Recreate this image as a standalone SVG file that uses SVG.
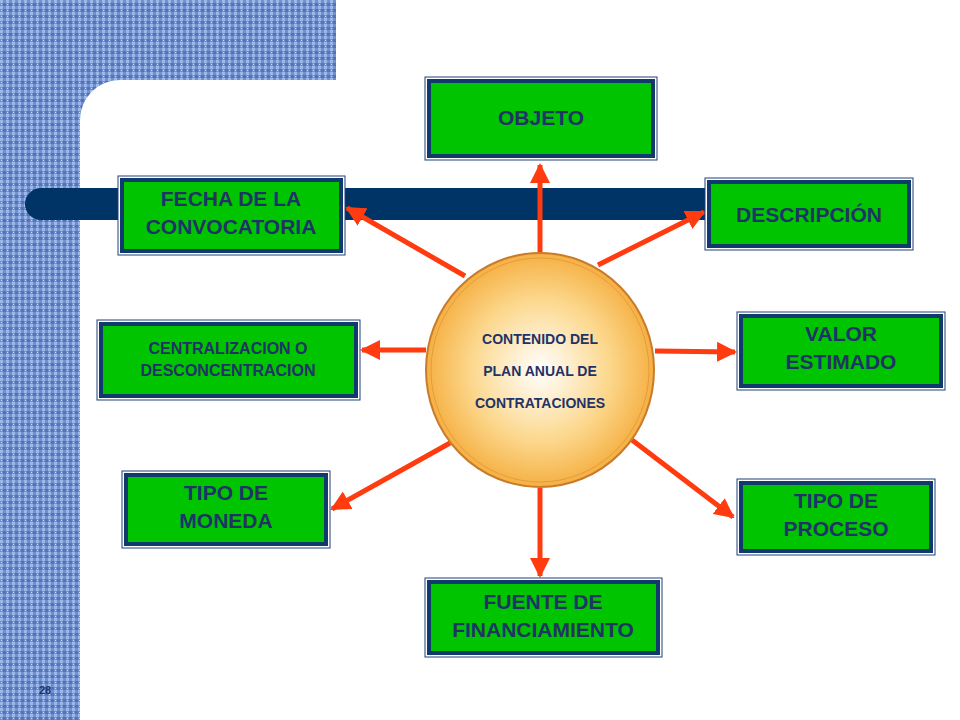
<svg xmlns="http://www.w3.org/2000/svg" width="960" height="720" viewBox="0 0 960 720">
<defs>
<pattern id="tex" width="6" height="6" patternUnits="userSpaceOnUse">
<rect width="6" height="6" fill="#6f8fcf"/>
<rect x="0" y="0" width="3" height="3" fill="#9fb8ea"/>
<rect x="3" y="3" width="3" height="3" fill="#5374b8"/>
<rect x="1" y="4" width="1" height="1" fill="#c9d8f5"/>
</pattern>
<radialGradient id="sun" cx="50%" cy="50%" r="50%">
<stop offset="0" stop-color="#ffffff"/>
<stop offset="0.6" stop-color="#fcd88e"/>
<stop offset="1" stop-color="#f5b043"/>
</radialGradient>
<marker id="ah" viewBox="0 0 10 10" refX="9" refY="5" markerWidth="4" markerHeight="4" orient="auto" markerUnits="strokeWidth">
<path d="M0,0 L10,5 L0,10 Z" fill="#ff3b0f"/>
</marker>
<style>
.ob{fill:#ffffff;stroke:#1f3f7a;stroke-width:1}
.ib{fill:#00c400;stroke:#0f3a6b;stroke-width:4}
.t{font-family:"Liberation Sans",Arial,sans-serif;font-weight:bold;fill:#1f3366;text-anchor:middle}
.c{stroke:#ff3b0f;stroke-width:5;fill:none;marker-end:url(#ah)}
</style>
</defs>
<rect width="960" height="720" fill="#ffffff"/>
<rect x="0" y="0" width="80" height="720" fill="url(#tex)"/>
<rect x="0" y="0" width="336" height="80" fill="url(#tex)"/>
<path d="M80,80 L120,80 A40,40 0 0 0 80,120 Z" fill="url(#tex)"/>
<rect x="25" y="188" width="700" height="32" rx="16" fill="#003366"/>
<text x="45" y="694" class="t" font-size="11">28</text>
<g id="connectors">
<line class="c" x1="540" y1="258" x2="540" y2="165"/>
<line class="c" x1="465" y1="276" x2="347" y2="208"/>
<line class="c" x1="598" y1="265" x2="704" y2="212"/>
<line class="c" x1="426" y1="350" x2="362" y2="350"/>
<line class="c" x1="655" y1="351" x2="735" y2="352"/>
<line class="c" x1="450" y1="443" x2="332" y2="509"/>
<line class="c" x1="632" y1="440" x2="733" y2="517"/>
<line class="c" x1="540" y1="488" x2="540" y2="576"/>
</g>
<g id="center">
<ellipse cx="540" cy="370" rx="114" ry="117" fill="url(#sun)" stroke="#c97b2a" stroke-width="2"/>
<ellipse cx="540" cy="370" rx="109" ry="112" fill="none" stroke="#e89a3c" stroke-width="1"/>
<text class="t" font-size="14" x="540" y="344">CONTENIDO DEL</text>
<text class="t" font-size="14" x="540" y="376">PLAN ANUAL DE</text>
<text class="t" font-size="14" x="540" y="408">CONTRATACIONES</text>
</g>
<g id="objeto"><rect class="ob" x="425" y="77" width="232" height="83"/><rect class="ib" x="429" y="81" width="224" height="75"/><text class="t" font-size="21" x="541" y="125">OBJETO</text></g>
<g id="fecha"><rect class="ob" x="118" y="176" width="227" height="79"/><rect class="ib" x="122" y="180" width="219" height="71"/><text class="t" font-size="21" x="231" y="206">FECHA DE LA</text><text class="t" font-size="21" x="231" y="234">CONVOCATORIA</text></g>
<g id="descripcion"><rect class="ob" x="705" y="178" width="208" height="72"/><rect class="ib" x="709" y="182" width="200" height="64"/><text class="t" font-size="21" x="809" y="222">DESCRIPCIÓN</text></g>
<g id="centralizacion"><rect class="ob" x="97" y="320" width="263" height="80"/><rect class="ib" x="101" y="324" width="255" height="72"/><text class="t" font-size="16" x="228" y="354">CENTRALIZACION O</text><text class="t" font-size="16" x="228" y="376">DESCONCENTRACION</text></g>
<g id="valor"><rect class="ob" x="737" y="312" width="208" height="78"/><rect class="ib" x="741" y="316" width="200" height="70"/><text class="t" font-size="21" x="841" y="341">VALOR</text><text class="t" font-size="21" x="841" y="369">ESTIMADO</text></g>
<g id="moneda"><rect class="ob" x="122" y="471" width="208" height="77"/><rect class="ib" x="126" y="475" width="200" height="69"/><text class="t" font-size="21" x="226" y="500">TIPO DE</text><text class="t" font-size="21" x="226" y="528">MONEDA</text></g>
<g id="proceso"><rect class="ob" x="737" y="479" width="198" height="76"/><rect class="ib" x="741" y="483" width="190" height="68"/><text class="t" font-size="21" x="836" y="508">TIPO DE</text><text class="t" font-size="21" x="836" y="536">PROCESO</text></g>
<g id="fuente"><rect class="ob" x="425" y="578" width="237" height="79"/><rect class="ib" x="429" y="582" width="229" height="71"/><text class="t" font-size="21" x="543" y="609">FUENTE DE</text><text class="t" font-size="21" x="543" y="637">FINANCIAMIENTO</text></g>
</svg>
